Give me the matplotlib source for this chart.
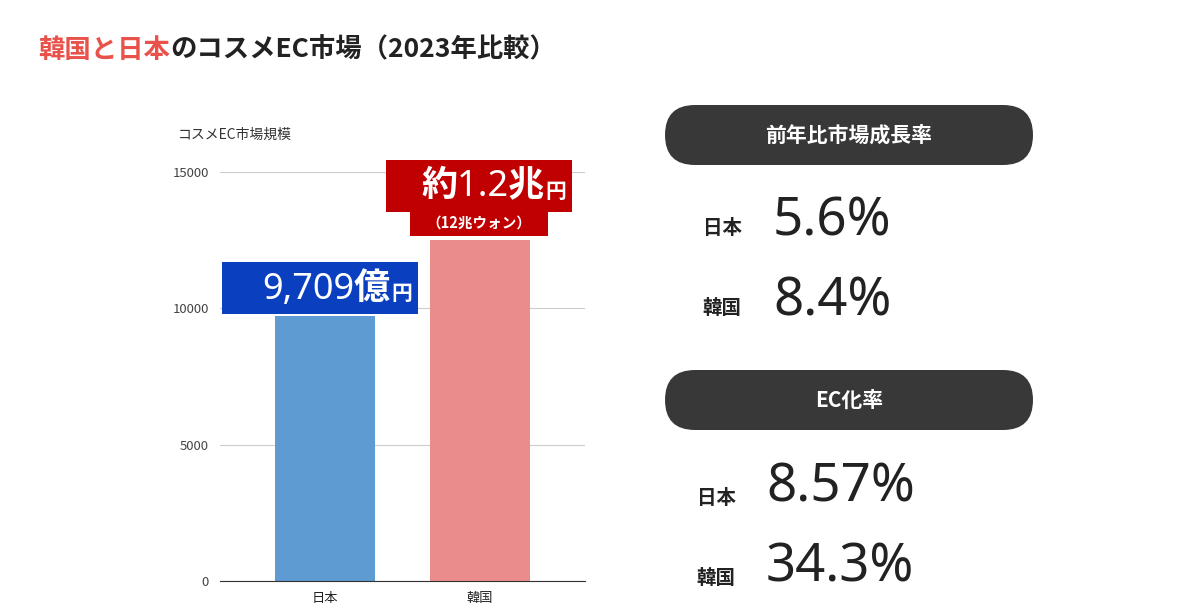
import matplotlib
matplotlib.use("Agg")
import matplotlib.pyplot as plt
from matplotlib.patches import FancyBboxPatch, Rectangle

plt.rcParams['font.family'] = ['Noto Sans CJK JP', 'DejaVu Sans']
NUMF = ['Noto Sans', 'Noto Sans CJK JP']

categories = ["日本", "韓国"]
values = [9709, 12500]
bar_colors = ["#5f9bd3", "#ea8c8c"]
yticks = [0, 5000, 10000, 15000]
growth_labels = ["日本", "韓国"]
growth_values = ["5.6%", "8.4%"]
ec_labels = ["日本", "韓国"]
ec_values = ["8.57%", "34.3%"]

W, H = 1200, 616
fig = plt.figure(figsize=(12, 6.16), dpi=100)

ax = fig.add_axes([220 / W, 1 - 581 / H, 365 / W, 409 / H])
x = [0, 1]
ax.bar(x, values, width=0.645, color=bar_colors)
ax.set_xlim(-0.677, 1.677)
ax.set_ylim(0, 15000)
ax.set_yticks(yticks)
ax.set_yticklabels([str(v) for v in yticks], fontsize=9.5, color="#444444")
ax.set_xticks(x)
ax.set_xticklabels(categories, fontsize=9.5, color="#222222")
ax.tick_params(length=0, pad=8)
ax.grid(axis="y", color="#cccccc", linewidth=0.8)
ax.set_axisbelow(True)
for s in ["top", "right", "left"]:
    ax.spines[s].set_visible(False)
ax.spines["bottom"].set_color("#333333")

# overlay in pixel coordinates
ov = fig.add_axes([0, 0, 1, 1], zorder=5)
ov.set_xlim(0, W)
ov.set_ylim(H, 0)
ov.axis("off")

ov.text(178, 135, "コスメEC市場規模", fontsize=10, color="#333333", va="center")

# title
t1 = ov.text(38, 50, "韓国と日本", color="#e8524a", fontsize=19, fontweight="bold", va="center")
fig.canvas.draw()
bb = t1.get_window_extent()
xe = ov.transData.inverted().transform((bb.x1, bb.y0))[0]
ov.text(xe, 50, "のコスメEC市場（2023年比較）", color="#222222", fontsize=19,
        fontweight="bold", va="center")

# value label boxes
ov.add_patch(Rectangle((222, 262), 196, 52, fc="#0a3fbf", ec="none"))
ov.text(391, 290, "9,709億", family=NUMF, fontsize=26, fontweight="bold", color="white", ha="right", va="center")
ov.text(391, 294, "円", fontsize=15, fontweight="bold", color="white", ha="left", va="center")
ov.add_patch(Rectangle((386, 160), 186, 52, fc="#c00000", ec="none"))
ov.text(545, 187, "約1.2兆", family=NUMF, fontsize=26, fontweight="bold", color="white", ha="right", va="center")
ov.text(545, 191, "円", fontsize=15, fontweight="bold", color="white", ha="left", va="center")
ov.add_patch(Rectangle((410, 212), 138, 24, fc="#c00000", ec="none"))
ov.text(479, 223, "（12兆ウォン）", fontsize=10.5, fontweight="bold", color="white", ha="center", va="center")

# pills
def pill(y0, y1, text):
    x0, x1 = 665, 1033
    h = y1 - y0
    ov.add_patch(FancyBboxPatch((x0 + h / 2, y0), (x1 - x0) - h, h,
                                boxstyle=f"round,pad={h/2},rounding_size={h/2}",
                                fc="#383838", ec="none", mutation_aspect=1))
    ov.text((x0 + x1) / 2, (y0 + y1) / 2, text, color="white", fontsize=15,
            fontweight="bold", ha="center", va="center")

def pill2(y0, y1, text):
    x0, x1 = 665, 1033
    h = y1 - y0
    r = h / 2
    ov.add_patch(FancyBboxPatch((x0 + r, y0 + r), (x1 - x0) - h, 0.001,
                                boxstyle=f"round,pad={r - 0.001}",
                                fc="#383838", ec="none"))
    ov.text((x0 + x1) / 2, (y0 + y1) / 2, text, color="white", fontsize=15,
            fontweight="bold", ha="center", va="center")

pill2(105, 165, "前年比市場成長率")
pill2(370, 430, "EC化率")

for lab, val, y in zip(growth_labels, growth_values, [222, 302]):
    ov.text(722, y + 6, lab, fontsize=14, fontweight="bold", ha="center", va="center", color="#222222")
    ov.text(773, y, val, family=NUMF, fontsize=38, fontweight="bold", ha="left", va="center", color="#222222")
for lab, val, y in zip(ec_labels, ec_values, [488, 568]):
    ov.text(716, y + 10, lab, fontsize=14, fontweight="bold", ha="center", va="center", color="#222222")
    ov.text(766, y, val, family=NUMF, fontsize=38, fontweight="bold", ha="left", va="center", color="#222222")

fig.savefig("out.png", dpi=100)
